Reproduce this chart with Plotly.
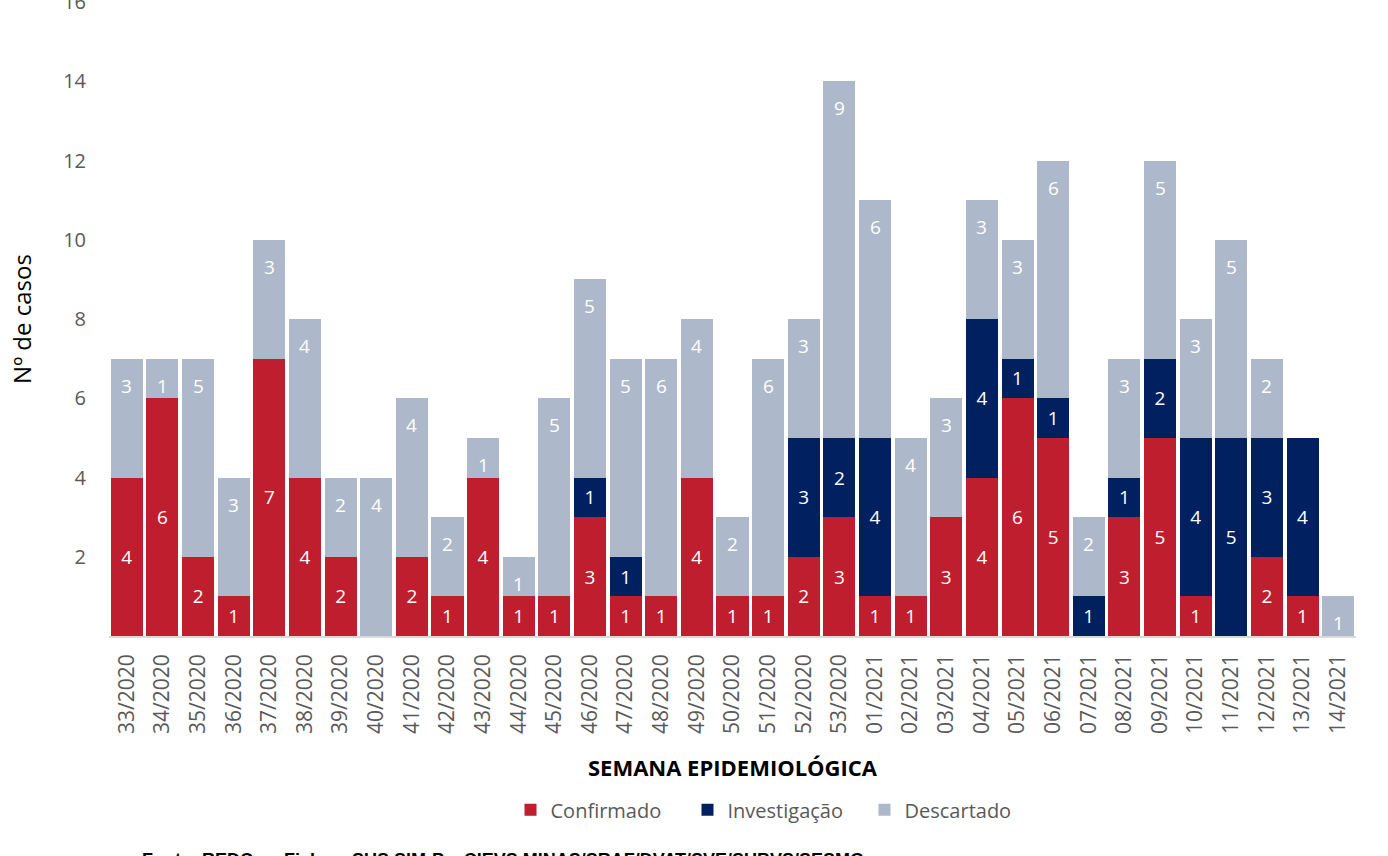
import plotly.graph_objects as go

semanas = ["33/2020", "34/2020", "35/2020", "36/2020", "37/2020", "38/2020", "39/2020",
           "40/2020", "41/2020", "42/2020", "43/2020", "44/2020", "45/2020", "46/2020",
           "47/2020", "48/2020", "49/2020", "50/2020", "51/2020", "52/2020", "53/2020",
           "01/2021", "02/2021", "03/2021", "04/2021", "05/2021", "06/2021", "07/2021",
           "08/2021", "09/2021", "10/2021", "11/2021", "12/2021", "13/2021", "14/2021"]
confirmado = [4, 6, 2, 1, 7, 4, 2, 0, 2, 1, 4, 1, 1, 3, 1, 1, 4, 1, 1, 2, 3,
              1, 1, 3, 4, 6, 5, 0, 3, 5, 1, 0, 2, 1, 0]
investigacao = [0, 0, 0, 0, 0, 0, 0, 0, 0, 0, 0, 0, 0, 1, 1, 0, 0, 0, 0, 3, 2,
                4, 0, 0, 4, 1, 1, 1, 1, 2, 4, 5, 3, 4, 0]
descartado = [3, 1, 5, 3, 3, 4, 2, 4, 4, 2, 1, 1, 5, 5, 5, 6, 4, 2, 6, 3, 9,
              6, 4, 3, 3, 3, 6, 2, 3, 5, 3, 5, 2, 0, 1]
y_ticks = [2, 4, 6, 8, 10, 12, 14, 16]

C_RED = "#BE1E2D"
C_NAVY = "#002060"
C_GRAY = "#ADB9CA"
FONT = "Open Sans"
LBL = 19

def lbl(vals):
    return [str(v) if v else "" for v in vals]

fig = go.Figure()
fig.add_trace(go.Bar(x=semanas, y=confirmado, name="Confirmado", marker_color=C_RED,
                     text=lbl(confirmado), textposition="inside", insidetextanchor="middle",
                     textangle=0, constraintext="none",
                     textfont=dict(color="white", size=LBL, family=FONT),
                     marker_line_width=0))
fig.add_trace(go.Bar(x=semanas, y=investigacao, name="Investigação", marker_color=C_NAVY,
                     text=lbl(investigacao), textposition="inside", insidetextanchor="middle",
                     textangle=0, constraintext="none",
                     textfont=dict(color="white", size=LBL, family=FONT),
                     marker_line_width=0))
fig.add_trace(go.Bar(x=semanas, y=descartado, name="Descartado", marker_color=C_GRAY,
                     marker_line_width=0))

# labels of "Descartado" near the top of each segment
totals = [a + b + c for a, b, c in zip(confirmado, investigacao, descartado)]
for s, t, d in zip(semanas, totals, descartado):
    if d:
        fig.add_annotation(x=s, y=t, text=str(d), showarrow=False, yshift=-27,
                           yanchor="middle", font=dict(color="white", size=LBL, family=FONT))

fig.add_annotation(xref="paper", yref="paper", x=(140 - 109) / 1247, y=-0.335,
                   xanchor="left", yanchor="top", showarrow=False,
                   text="<b>Fonte: REDCap, Ficha e-SUS SIM-P e CIEVS MINAS/SRAF/DVAT/SVE/SUBVS/SESMG</b>",
                   font=dict(color="black", size=18, family="Liberation Sans"))

fig.update_layout(
    barmode="stack", bargap=0.1,
    width=1388, height=856,
    margin=dict(l=109, r=32, t=2, b=220),
    plot_bgcolor="white", paper_bgcolor="white",
    font=dict(family=FONT, color="#595959"),
    legend=dict(orientation="h", x=(776 - 109) / 1247, xanchor="center",
                y=-0.274, yanchor="middle", font=dict(size=20, color="#595959", family=FONT),
                traceorder="normal", entrywidth=132),
    xaxis=dict(showline=True, linecolor="#D9D9D9", linewidth=1.5, ticks="",
               tickangle=-90, tickfont=dict(size=21, color="#595959"),
               ticklabelstandoff=8, automargin=False,
               title=dict(text="<b>SEMANA EPIDEMIOLÓGICA</b>", standoff=28,
                          font=dict(size=22, color="black", family=FONT))),
    yaxis=dict(range=[0, 16.0001], tickvals=y_ticks, showgrid=False, zeroline=False,
               showline=False, tickfont=dict(size=20, color="#595959"),
               ticklabelstandoff=22, automargin=False, ticklabeloverflow="allow",
               title=dict(text="Nº de casos", standoff=24,
                          font=dict(size=24, color="black", family=FONT))),
    showlegend=True,
)

fig.write_html("out.html", config={"displayModeBar": False},
               post_script="document.body.style.margin='0';document.body.style.overflow='hidden';")
